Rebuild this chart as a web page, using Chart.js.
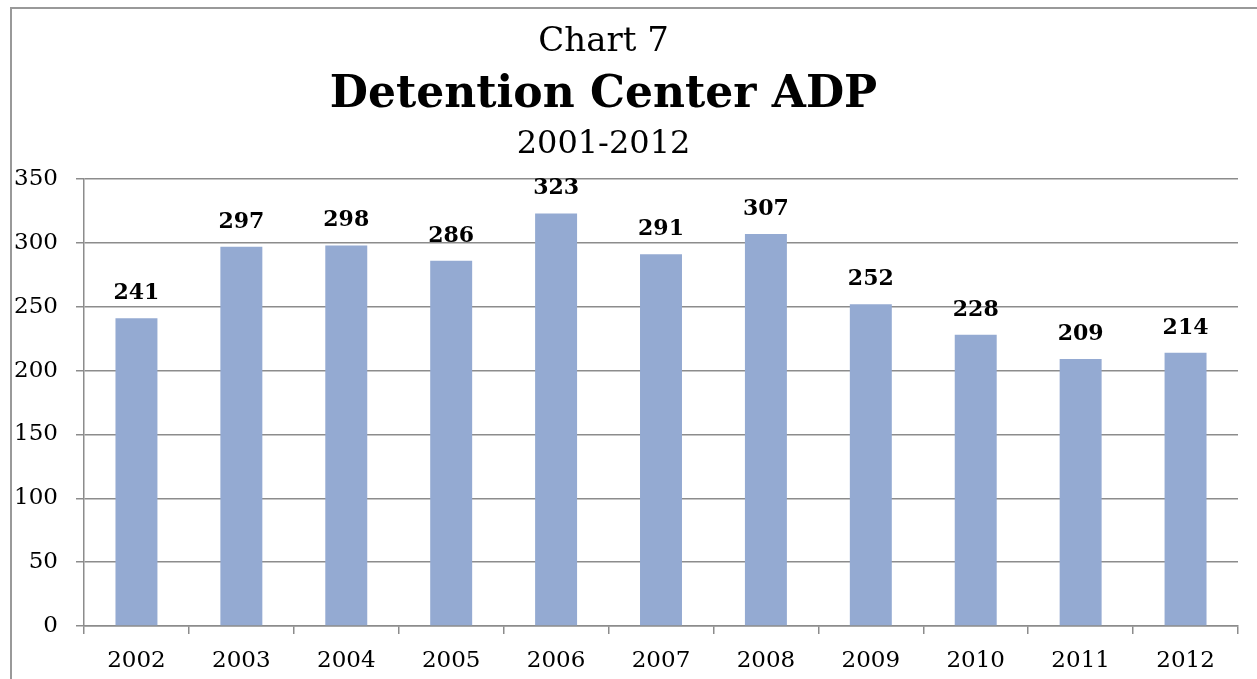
<!DOCTYPE html>
<html>
<head>
<meta charset="utf-8">
<script src="https://cdn.jsdelivr.net/npm/chart.js@4/dist/chart.umd.min.js"></script>
<style>
    html, body { margin: 0; padding: 0; background: #ffffff; }
    #wrap { position: relative; width: 1257px; height: 679px; overflow: hidden; }
    #frame {
        position: absolute; left: 10px; top: 7px; right: -4px; bottom: -4px;
        border-top: 2px solid #999999; border-left: 2px solid #999999;
    }
    canvas { position: absolute; left: 0; top: 0; }
</style>
</head>
<body>
<div id="wrap">
    <div id="frame"></div>
    <canvas id="adpChart" width="1257" height="679"></canvas>
</div>
<script>

const YEARS = ["2002", "2003", "2004", "2005", "2006", "2007", "2008", "2009", "2010", "2011", "2012"];

const ADP = [241, 297, 298, 286, 323, 291, 307, 252, 228, 209, 214];

const TITLE_LINES = ["Chart 7", "Detention Center ADP", "2001-2012"];

const Y_MAX = 350;

const Y_STEP = 50;

const SERIF = "'DejaVu Serif', 'Liberation Serif', serif";

const BAR_COLOR = "#94aad2";

const GRID_COLOR = "#8c8c8c";

// titles, drawn a bit left of centre like the original
const titlePlugin = {

    id: "stackedTitle",

    afterDraw(chart) {

        const ctx = chart.ctx;
        const cx = chart.width / 2 - 25;

        ctx.save();
        ctx.fillStyle = "#000000";
        ctx.textAlign = "center";
        ctx.textBaseline = "alphabetic";

        ctx.font = "34px " + SERIF;
        ctx.fillText(TITLE_LINES[0], cx, 51);

        ctx.font = "bold 44px " + SERIF;
        ctx.fillText(TITLE_LINES[1], cx, 107);

        ctx.font = "32px " + SERIF;
        ctx.fillText(TITLE_LINES[2], cx, 153);

        ctx.restore();

    }

};

// value labels above each bar
const valueLabels = {

    id: "valueLabels",

    afterDatasetsDraw(chart) {

        const ctx = chart.ctx;
        const meta = chart.getDatasetMeta(0);

        ctx.save();
        ctx.fillStyle = "#000000";
        ctx.font = "bold 22px " + SERIF;
        ctx.textAlign = "center";
        ctx.textBaseline = "alphabetic";

        meta.data.forEach((bar, i) => {
            ctx.fillText(String(ADP[i]), bar.x, bar.y - 19);
        });

        ctx.restore();

    }

};

new Chart(document.getElementById("adpChart").getContext("2d"), {

    type: "bar",

    data: {

        labels: YEARS,

        datasets: [{

            label: "ADP",

            data: ADP,

            backgroundColor: BAR_COLOR,

            borderWidth: 0,

            barPercentage: 0.4,

            categoryPercentage: 1.0

        }]

    },

    options: {

        responsive: false,

        animation: false,

        events: [],

        layout: {

            padding: { top: 179, left: 14, right: 19, bottom: 4 }

        },

        plugins: {

            legend: { display: false },

            title: { display: false },

            tooltip: { enabled: false }

        },

        scales: {

            x: {

                offset: true,

                afterFit(scale) {
                    scale.height = 49;
                },

                grid: {

                    offset: true,

                    drawOnChartArea: false,

                    drawTicks: true,

                    tickLength: 8,

                    color: GRID_COLOR,

                    lineWidth: 1.5

                },

                border: { color: GRID_COLOR, width: 1.5 },

                ticks: {

                    color: "#000000",

                    padding: 13,

                    maxRotation: 0,

                    font: { family: SERIF, size: 23 }

                }

            },

            y: {

                min: 0,

                max: Y_MAX,

                afterFit(scale) {
                    scale.width = 70;
                },

                grid: {

                    color: GRID_COLOR,

                    lineWidth: 1.5,

                    tickLength: 8

                },

                border: { color: GRID_COLOR, width: 1.5 },

                ticks: {

                    stepSize: Y_STEP,

                    color: "#000000",

                    padding: 18,

                    font: { family: SERIF, size: 23 }

                }

            }

        }

    },

    plugins: [titlePlugin, valueLabels]

});

</script>
</body>
</html>
